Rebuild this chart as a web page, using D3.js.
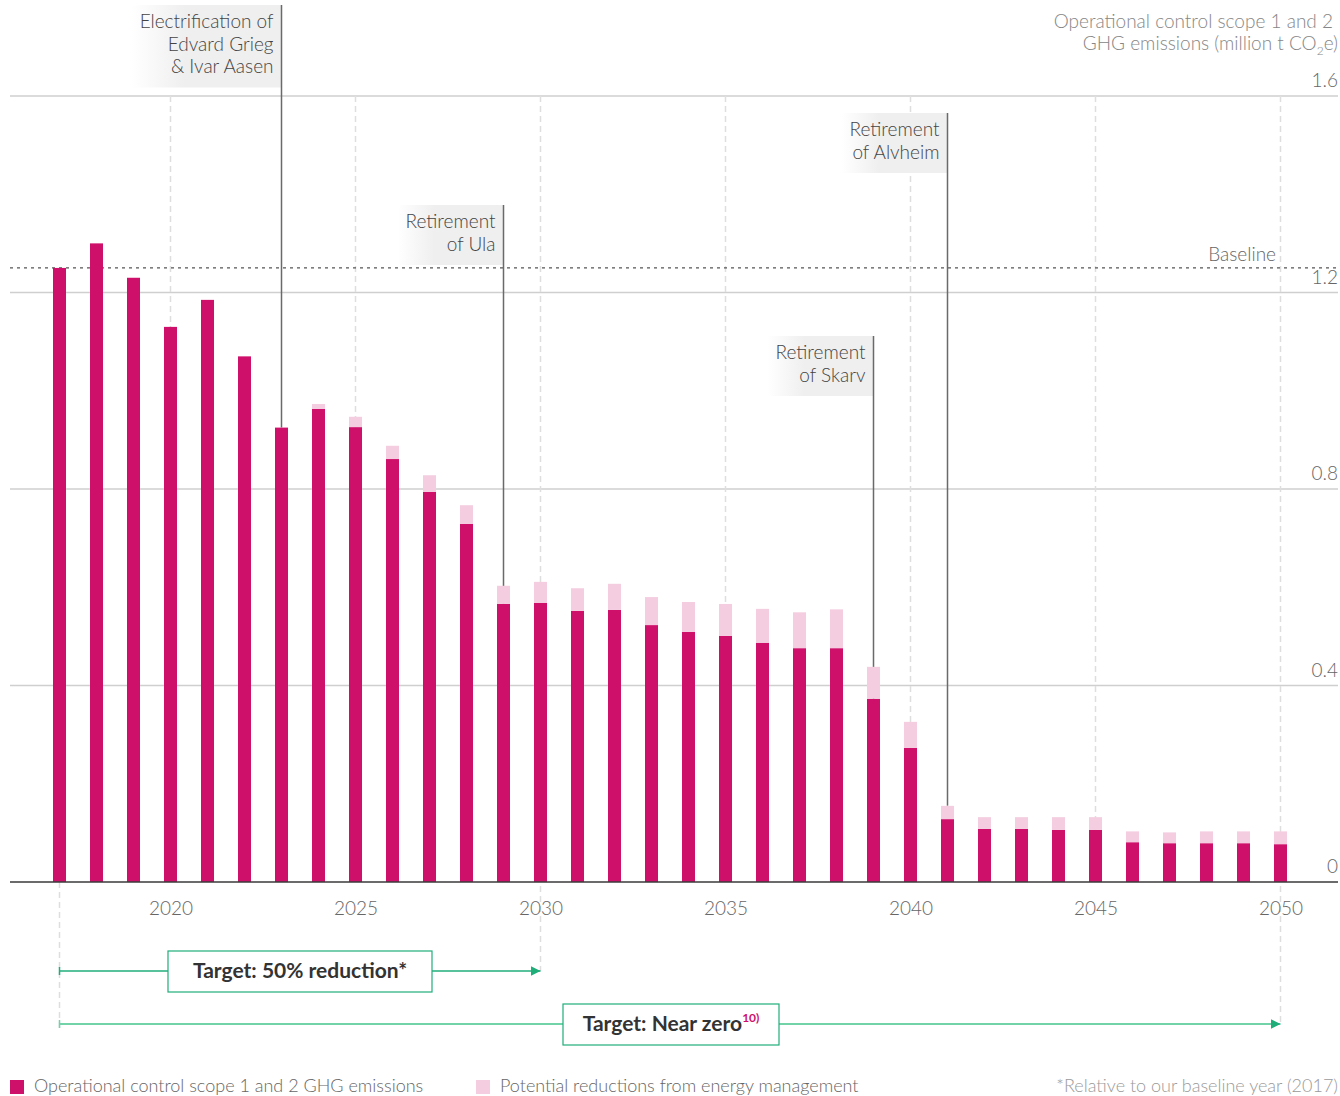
<!DOCTYPE html>
<html>
<head>
<meta charset="utf-8">
<script src="https://cdn.jsdelivr.net/npm/d3@7"></script>
<style>
  html, body { margin: 0; padding: 0; background: #fff; }
  svg { display: block; font-family: "Lato", "Open Sans", sans-serif; }
</style>
</head>
<body>
<svg id="chart" width="1340" height="1096"></svg>
<script>
// Years shown on the chart
const years = [2017, 2018, 2019, 2020, 2021, 2022, 2023, 2024, 2025, 2026, 2027, 2028,
  2029, 2030, 2031, 2032, 2033, 2034, 2035, 2036, 2037, 2038, 2039, 2040, 2041, 2042,
  2043, 2044, 2045, 2046, 2047, 2048, 2049, 2050];

// Operational control scope 1 and 2 GHG emissions (million t CO2e)
const emissions = [1.25, 1.30, 1.23, 1.13, 1.185, 1.07, 0.925, 0.963, 0.926, 0.861, 0.794, 0.729,
  0.566, 0.568, 0.552, 0.554, 0.523, 0.509, 0.501, 0.487, 0.476, 0.476, 0.373, 0.273, 0.128, 0.108,
  0.108, 0.106, 0.106, 0.081, 0.079, 0.079, 0.079, 0.077];

// Potential reductions from energy management, stacked on top of emissions
const reductions = [0, 0, 0, 0, 0, 0, 0, 0.010, 0.021, 0.027, 0.034, 0.038,
  0.037, 0.043, 0.046, 0.053, 0.057, 0.061, 0.065, 0.069, 0.073, 0.079, 0.065, 0.053, 0.027, 0.024,
  0.024, 0.026, 0.026, 0.022, 0.022, 0.024, 0.024, 0.026];

const baselineValue = 1.25;
const yTicks = [0, 0.4, 0.8, 1.2, 1.6];
const yTickLabels = ["0", "0.4", "0.8", "1.2", "1.6"];
const xTicks = [2020, 2025, 2030, 2035, 2040, 2045, 2050];

// Event annotations: year of the event and the label lines
const eventYears = [2023, 2029, 2041, 2039];
const eventLabels = [
  ["Electrification of", "Edvard Grieg", "& Ivar Aasen"],
  ["Retirement", "of Ula"],
  ["Retirement", "of Alvheim"],
  ["Retirement", "of Skarv"]
];

const legendLabels = ["Operational control scope 1 and 2 GHG emissions",
  "Potential reductions from energy management"];

// ---- styling & layout ----
const C = {
  main: "#cf106b",
  light: "#f4cde0",
  grid: "#cfcfcf",
  vgrid: "#dedede",
  axis: "#3a3a3a",
  label: "#666",
  note: "#444",
  green: "#1fae7a",
  greenLight: "#72d3a9"
};
const FS = 19;

const svg = d3.select("#chart");
const left = 10, right = 1338;

const x = d3.scaleLinear().domain([2017, 2050]).range([59.5, 1280.5]);
const y = d3.scaleLinear().domain([0, 1.6]).range([882, 96]);
const barW = 13;

// gradient used behind annotation labels
const defs = svg.append("defs");
const grad = defs.append("linearGradient").attr("id", "noteBg")
  .attr("x1", "0").attr("x2", "1").attr("y1", "0").attr("y2", "0");
grad.append("stop").attr("offset", "0").attr("stop-color", "#efefef").attr("stop-opacity", 0);
grad.append("stop").attr("offset", "0.35").attr("stop-color", "#efefef").attr("stop-opacity", 1);
grad.append("stop").attr("offset", "1").attr("stop-color", "#efefef").attr("stop-opacity", 1);

// horizontal grid lines (non-zero)
svg.append("g").selectAll("line").data(yTicks.filter(d => d > 0)).join("line")
  .attr("x1", left).attr("x2", right)
  .attr("y1", d => y(d)).attr("y2", d => y(d))
  .attr("stroke", C.grid).attr("stroke-width", 1.5);

// vertical dashed guides at labelled years
svg.append("g").selectAll("line").data(xTicks).join("line")
  .attr("x1", d => x(d)).attr("x2", d => x(d))
  .attr("y1", y(1.6))
  .attr("y2", d => d === 2030 ? 971 : d === 2050 ? 1024 : y(0))
  .attr("stroke", C.vgrid).attr("stroke-width", 1.5).attr("stroke-dasharray", "6,4");
// guide marking the baseline year below the axis
svg.append("line")
  .attr("x1", x(2017)).attr("x2", x(2017)).attr("y1", y(0)).attr("y2", 1030)
  .attr("stroke", C.vgrid).attr("stroke-width", 1.5).attr("stroke-dasharray", "6,4");

// baseline
svg.append("line")
  .attr("x1", left).attr("x2", right)
  .attr("y1", y(baselineValue)).attr("y2", y(baselineValue))
  .attr("stroke", "#555").attr("stroke-width", 1.3).attr("stroke-dasharray", "3,4");
svg.append("text").attr("x", 1276).attr("y", y(baselineValue) - 7)
  .attr("text-anchor", "end").attr("font-size", FS).attr("font-weight", 300)
  .attr("fill", C.label).text("Baseline");

// annotation boxes + leader lines
const boxTops = [5, 205, 113, 336];
const noteG = svg.append("g");
eventYears.forEach((yr, i) => {
  const lines = eventLabels[i];
  const idx = years.indexOf(yr);
  const cx = x(yr);
  const top = boxTops[i];
  const h = lines.length * 22.5 + 15;
  const rect = noteG.append("rect").attr("y", top).attr("height", h)
    .attr("fill", "url(#noteBg)");
  let maxW = 0;
  lines.forEach((l, j) => {
    const t = noteG.append("text").attr("x", cx - 8).attr("y", top + 23 + j * 22.5)
      .attr("text-anchor", "end").attr("font-size", FS).attr("font-weight", 300)
      .attr("fill", C.note).text(l);
    maxW = Math.max(maxW, t.node().getComputedTextLength());
  });
  const bw = maxW + 16;
  rect.attr("x", cx - bw).attr("width", bw);
  const endVal = yr === 2041 ? emissions[idx] + reductions[idx] : emissions[idx];
  noteG.append("line").attr("x1", cx).attr("x2", cx).attr("y1", top).attr("y2", y(endVal))
    .attr("stroke", "#6a6a6a").attr("stroke-width", 1.5);
});

// bars: emissions
svg.append("g").selectAll("rect").data(years).join("rect")
  .attr("x", (d) => x(d) - barW / 2)
  .attr("width", barW)
  .attr("y", (d, i) => y(emissions[i]))
  .attr("height", (d, i) => y(0) - y(emissions[i]))
  .attr("fill", C.main);

// bars: potential reductions stacked above
svg.append("g").selectAll("rect").data(years).join("rect")
  .attr("x", (d) => x(d) - barW / 2)
  .attr("width", barW)
  .attr("y", (d, i) => y(emissions[i] + reductions[i]))
  .attr("height", (d, i) => y(emissions[i]) - y(emissions[i] + reductions[i]))
  .attr("fill", C.light);

// zero axis line
svg.append("line").attr("x1", left).attr("x2", right).attr("y1", y(0)).attr("y2", y(0))
  .attr("stroke", C.axis).attr("stroke-width", 1.5);

// y tick labels on the right
const yAxis = d3.axisRight(y).tickValues(yTicks)
  .tickFormat((d, i) => yTickLabels[i]).tickSize(0);
const yg = svg.append("g").attr("transform", `translate(${right},0)`).call(yAxis);
yg.select(".domain").remove();
yg.selectAll("text").attr("x", 0).attr("dy", "-0.5em").attr("text-anchor", "end")
  .attr("font-size", FS).attr("font-weight", 300).attr("font-family", "Lato")
  .attr("fill", C.label);

// x tick labels
const xAxis = d3.axisBottom(x).tickValues(xTicks).tickFormat(d3.format("d")).tickSize(0);
const xg = svg.append("g").attr("transform", `translate(0,${y(0)})`).call(xAxis);
xg.select(".domain").remove();
xg.selectAll("text").attr("y", 20).attr("dy", "0.71em")
  .attr("font-size", FS).attr("font-weight", 300).attr("font-family", "Lato")
  .attr("fill", C.label);

// y axis title
const title = svg.append("text").attr("text-anchor", "end").attr("font-size", FS)
  .attr("font-weight", 300).attr("fill", "#868686");
title.append("tspan").attr("x", 1333).attr("y", 28).text("Operational control scope 1 and 2");
const t2 = title.append("tspan").attr("x", 1338).attr("y", 50);
t2.text("GHG emissions (million t CO");
title.append("tspan").attr("font-size", 12).attr("dy", 5).text("2");
title.append("tspan").attr("dy", -5).text("e)");

// target arrows
defs.append("marker").attr("id", "arrowDark").attr("viewBox", "0 0 10 10")
  .attr("refX", 10).attr("refY", 5).attr("markerWidth", 10).attr("markerHeight", 10)
  .attr("markerUnits", "userSpaceOnUse").attr("orient", "auto")
  .append("path").attr("d", "M0,0L10,5L0,10Z").attr("fill", C.green);

function target(y0, xEnd, color, width, label, sup, boxX, boxW) {
  const g = svg.append("g");
  g.append("line").attr("x1", x(2017)).attr("x2", xEnd).attr("y1", y0).attr("y2", y0)
    .attr("stroke", color).attr("stroke-width", width).attr("marker-end", "url(#arrowDark)");
  g.append("line").attr("x1", x(2017)).attr("x2", x(2017)).attr("y1", y0 - 4).attr("y2", y0 + 4)
    .attr("stroke", color).attr("stroke-width", 1.5);
  g.append("rect").attr("x", boxX).attr("y", y0 - 20).attr("width", boxW).attr("height", 41)
    .attr("fill", "#fff").attr("stroke", C.green).attr("stroke-width", 1.2);
  const t = g.append("text").attr("x", boxX + boxW / 2).attr("y", y0 + 7)
    .attr("text-anchor", "middle").attr("font-size", 21).attr("font-weight", 700)
    .attr("fill", "#333").text(label);
  if (sup) {
    t.append("tspan").attr("font-size", 12).attr("dy", -9).attr("fill", C.main)
      .attr("font-weight", 700).text(sup);
  }
}
target(971, x(2030), C.green, 1.5, "Target: 50% reduction*", null, 168, 264);
target(1024, x(2050), C.greenLight, 2.2, "Target: Near zero", "10)", 563, 216);

// legend
const LFS = 18;
const lg = svg.append("g");
[C.main, C.light].forEach((c, i) => {
  const lx = i === 0 ? 10 : 476;
  lg.append("rect").attr("x", lx).attr("y", 1080).attr("width", 14).attr("height", 14).attr("fill", c);
  lg.append("text").attr("x", lx + 24).attr("y", 1092).attr("font-size", LFS)
    .attr("font-weight", 300).attr("fill", C.label).text(legendLabels[i]);
});
svg.append("text").attr("x", 1338).attr("y", 1092).attr("text-anchor", "end")
  .attr("font-size", LFS).attr("font-weight", 300).attr("fill", "#9a9a9a")
  .text("*Relative to our baseline year (2017)");
</script>
</body>
</html>
